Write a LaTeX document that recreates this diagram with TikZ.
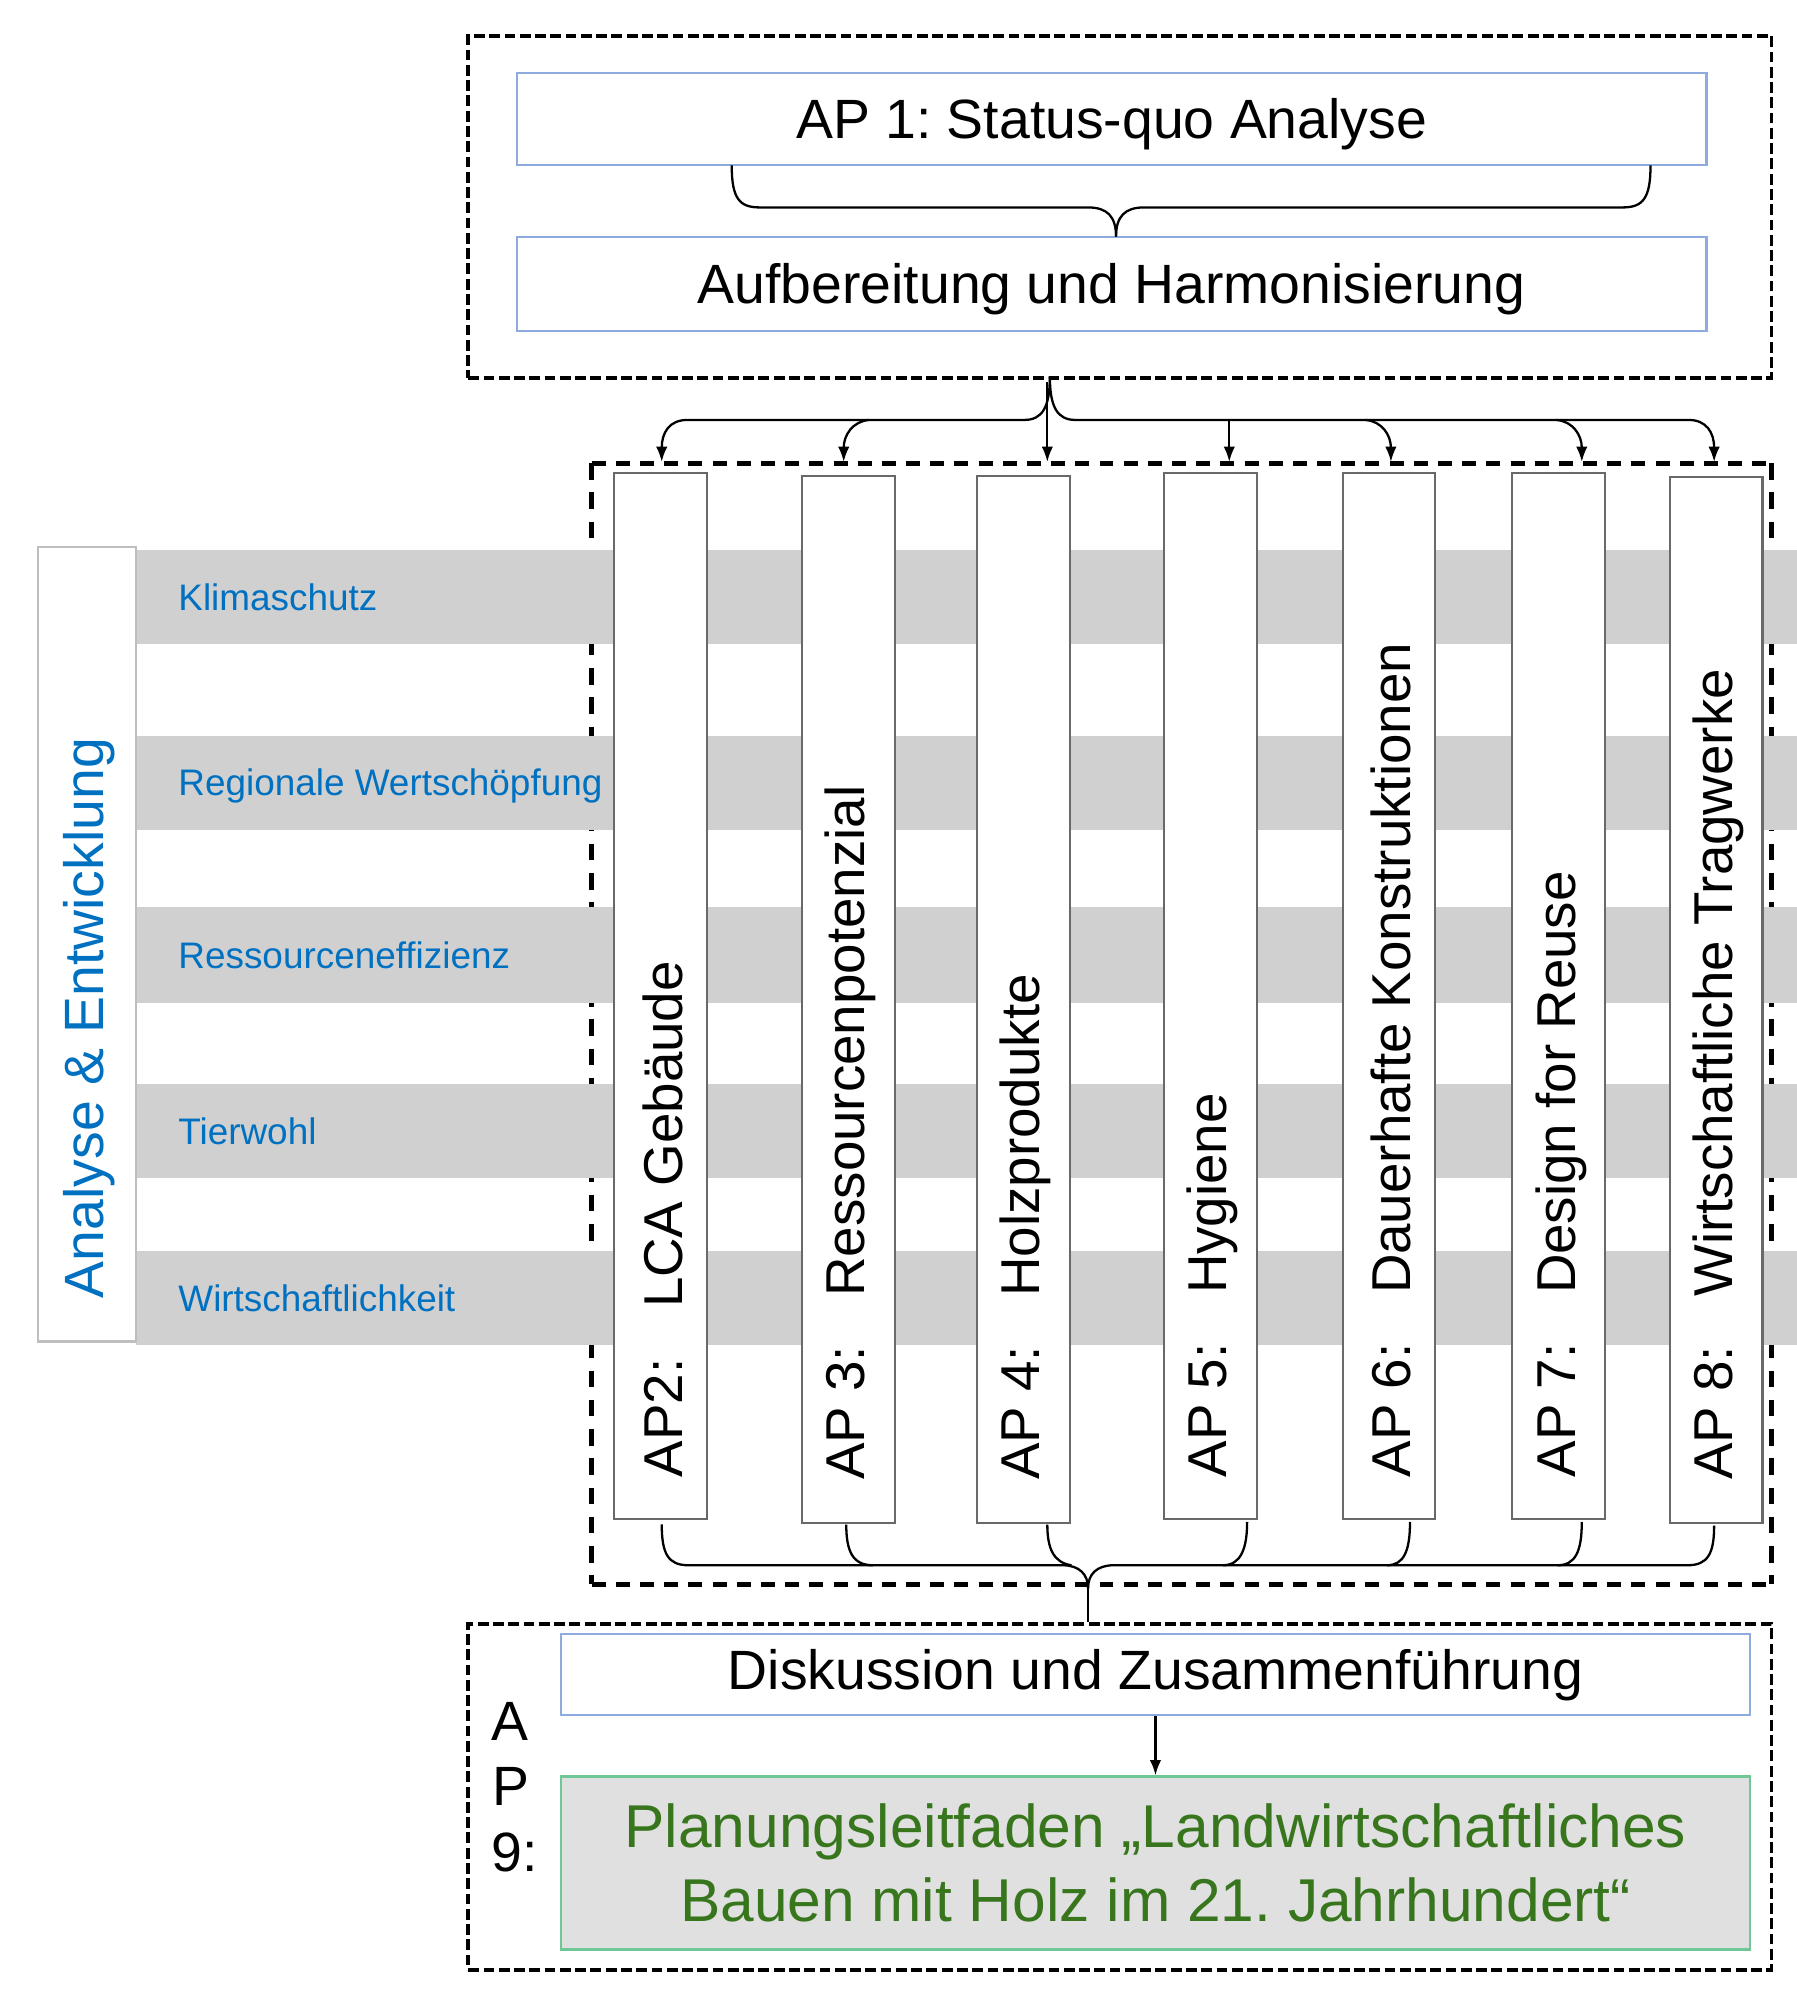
\documentclass[tikz,border=0pt]{standalone}
\usepackage{fontspec}
\setmainfont{Liberation Sans}
\usetikzlibrary{arrows.meta,calc}
\definecolor{bluebd}{RGB}{143,170,220}
\definecolor{bluetxt}{RGB}{0,112,192}
\definecolor{bandgray}{RGB}{208,208,208}
\definecolor{colbd}{RGB}{105,105,105}
\definecolor{leftbd}{RGB}{190,190,190}
\definecolor{greenbd}{RGB}{110,200,150}
\definecolor{greentxt}{RGB}{56,118,29}
\definecolor{greenfill}{RGB}{224,224,224}
\frenchspacing
\newcommand{\lowertext}[1]{\raisebox{-4pt}[\height][\depth]{#1}}
\begin{document}
\begin{tikzpicture}[x=1pt,y=-1pt,
  bigfont/.style={font=\fontsize{43.5}{52}\selectfont},
  apbox/.style={draw=bluebd,line width=1.6pt,fill=white,minimum width=935pt,inner sep=0pt,bigfont},
  column/.style={draw=colbd,line width=1.6pt,fill=white,minimum width=73pt,minimum height=822pt,inner sep=0pt},
  coltext/.style={rotate=90,anchor=west,inner sep=0pt,font=\fontsize{43}{52}\selectfont},
  band/.style={fill=bandgray,draw=none},
  bandlabel/.style={anchor=base west,inner sep=0pt,text=bluetxt,font=\fontsize{29}{35}\selectfont},
  outerdash/.style={draw=black,line width=3pt,dash pattern=on 8.5pt off 3.5pt},
  middash/.style={draw=black,line width=4pt,dash pattern=on 11pt off 8pt},
  conn/.style={draw=black,line width=1.8pt},
  tip/.style={-{Latex[length=12pt,width=9pt]}},
]
\useasboundingbox (0,0) rectangle (1412,1563);

% ---------- top group ----------
\node[outerdash,minimum width=1024pt,minimum height=269pt,inner sep=0pt] (topgrp) at (880,162.5) {};
\node[apbox,minimum height=73pt] (ap1) at (873.5,93.5) {\lowertext{AP 1: Status-quo Analyse}};
\node[apbox,minimum height=74pt] (aufb) at (873.5,223) {\lowertext{Aufbereitung und Harmonisierung}};

% brace AP1 -> Aufbereitung
\coordinate (b1l) at (575,130);
\coordinate (b1r) at (1297,130);
\coordinate (b1t) at (877,186);
\draw[conn] (b1l) .. controls (575,156) and (581,163) .. (597,163) -- (855,163)
   .. controls (870,163) and (877,170) .. (b1t);
\draw[conn] (b1r) .. controls (1297,156) and (1291,163) .. (1275,163) -- (899,163)
   .. controls (884,163) and (877,170) .. (b1t);

% ---------- middle dashed group (behind bands) ----------
\coordinate (mNW) at (465,364);
\coordinate (mNE) at (1392,364);
\coordinate (mSW) at (465,1245);
\coordinate (mSE) at (1392,1245);
\draw[middash] (mNW) -- (mNE);
\draw[middash] (mSW) -- (mSE);
\draw[middash,dash pattern=on 13pt off 10pt] (mNW) -- (mSW);
\draw[middash,dash pattern=on 13pt off 10pt] (mNE) -- (mSE);

% ---------- bands ----------
\fill[band] (107,432) rectangle (1412,506);
\fill[band] (107,578) rectangle (1412,652);
\fill[band] (107,713) rectangle (1412,788);
\fill[band] (107,852) rectangle (1412,926);
\fill[band] (107,983) rectangle (1412,1057);

\node[bandlabel] (l1) at (140,479.5) {Klimaschutz};
\node[bandlabel] (l2) at (140,625.5) {Regionale Wertschöpfung};
\node[bandlabel] (l3) at (140,761) {Ressourceneffizienz};
\node[bandlabel] (l4) at (140,899.5) {Tierwohl};
\node[bandlabel] (l5) at (140,1030.5) {Wirtschaftlichkeit};

% left box
\node[draw=leftbd,line width=2pt,fill=white,minimum width=77pt,minimum height=624pt,inner sep=0pt] (ae) at (68.5,742) {};
\node[rotate=90,inner sep=0pt,text=bluetxt,bigfont] (aet) at (70,800) {Analyse \& Entwicklung};

% ---------- columns ----------
\node[column] (c2) at (519,783) {};
\node[column,minimum height=823pt] (c3) at (666.5,785.5) {};
\node[column,minimum height=823pt] (c4) at (804,785.5) {};
\node[column] (c5) at (951.5,783) {};
\node[column] (c6) at (1091.5,783) {};
\node[column] (c7) at (1225,783) {};
\node[column] (c8) at (1348.5,786) {};

\node[coltext] (t2) at (521,1161) {\makebox[133pt][l]{AP2:}LCA Gebäude};
\node[coltext] (t3) at (668,1163) {\makebox[144pt][l]{AP 3:}Ressourcenpotenzial};
\node[coltext] (t4) at (806,1163) {\makebox[144pt][l]{AP 4:}Holzprodukte};
\node[coltext] (t5) at (953,1161) {\makebox[144pt][l]{AP 5:}Hygiene};
\node[coltext] (t6) at (1093,1161) {\makebox[144pt][l]{AP 6:}Dauerhafte Konstruktionen};
\node[coltext] (t7) at (1227,1161) {\makebox[144pt][l]{AP 7:}Design for Reuse};
\node[coltext] (t8) at (1350,1163) {\makebox[144pt][l]{AP 8:}Wirtschaftliche Tragwerke};

% ---------- fan-out from top group ----------
\coordinate (ftip) at (825,296);
\coordinate (a2) at (520,363);
\coordinate (a3) at (663,363);
\coordinate (a4) at (823,363);
\coordinate (a5) at (966,363);
\coordinate (a6) at (1093,363);
\coordinate (a7) at (1243,363);
\coordinate (a8) at (1347,363);
\draw[conn,tip] (ftip) .. controls (825,320) and (819,330) .. (805,330) -- (540,330)
   .. controls (526,330) and (520,340) .. (a2);
\draw[conn,tip] (ftip) .. controls (825,320) and (831,330) .. (845,330) -- (1327,330)
   .. controls (1341,330) and (1347,340) .. (a8);
\draw[conn,tip] (683,330) .. controls (670,331) and (663,342) .. (a3);
\draw[conn,tip] (823,300) -- (a4);
\draw[conn,tip] (966,330) -- (a5);
\draw[conn,tip] (1073,330) .. controls (1086,331) and (1093,342) .. (a6);
\draw[conn,tip] (1223,330) .. controls (1236,331) and (1243,342) .. (a7);

% ---------- bottom brace ----------
\coordinate (btip) at (855,1248);
\draw[conn] (c2.south) ++(1,3) .. controls (520,1221) and (525,1230) .. (541,1230) -- (835,1230)
   .. controls (848,1230) and (855,1237) .. (btip);
\draw[conn] (c8.south) ++(-1.5,1) .. controls (1347,1221) and (1342,1230) .. (1326,1230) -- (875,1230)
   .. controls (862,1230) and (855,1237) .. (btip);
\draw[conn] (665,1198) .. controls (665,1219) and (670,1230) .. (686,1230);
\draw[conn] (823,1198) .. controls (823,1217) and (828,1228) .. (842,1230);
\draw[conn] (980,1196) .. controls (980,1217) and (975,1230) .. (961,1230);
\draw[conn] (1108,1196) .. controls (1108,1219) and (1103,1230) .. (1090,1230);
\draw[conn] (1243,1196) .. controls (1243,1219) and (1238,1230) .. (1224,1230);

% ---------- bottom group ----------
\node[outerdash,minimum width=1024pt,minimum height=272pt,inner sep=0pt] (botgrp) at (880,1412) {};
\draw[conn] (btip) -- (btip |- botgrp.north);
\node[apbox,minimum width=934pt,minimum height=64pt] (disk) at (908,1316) {Diskussion und Zusammenführung};
\node[draw=greenbd,line width=1.8pt,fill=greenfill,minimum width=934pt,minimum height=136pt,inner sep=0pt,
      align=center,text=greentxt,font=\fontsize{47.5}{58}\selectfont] (plan) at (908,1464)
      {Planungsleitfaden „Landwirtschaftliches\\Bauen mit Holz im 21. Jahrhundert“};
\draw[conn,tip] (disk.south) -- (plan.north);

\node[anchor=base west,inner sep=0pt,bigfont] (apA) at (386,1368) {A};
\node[anchor=base west,inner sep=0pt,bigfont] (apP) at (387,1419) {P};
\node[anchor=base west,inner sep=0pt,bigfont] (ap9) at (386,1471) {9:};
\end{tikzpicture}
\end{document}
